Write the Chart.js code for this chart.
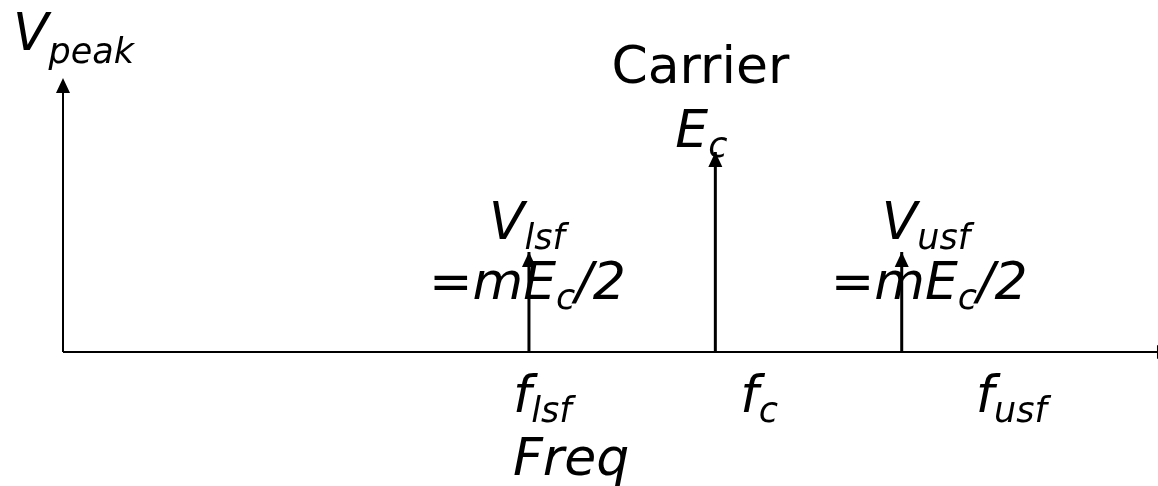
<!DOCTYPE html>
<html>
<head>
<meta charset="utf-8">
<script src="https://cdn.jsdelivr.net/npm/chart.js@4"></script>
<style>
  html, body { margin: 0; padding: 0; background: #fff; }
  #wrap { width: 1158px; height: 486px; }
</style>
</head>
<body>
<div id="wrap"><canvas id="spectrum"></canvas></div>
<script>
// spectral lines: lower side freq, carrier, upper side freq
const freqs = [5, 7, 9];
const amps = [0.5, 1, 0.5];
const tickLabels = [['f', 'lsf'], ['f', 'c'], ['f', 'usf']];
const lineTitles = [['V', 'lsf'], ['E', 'c'], ['V', 'usf']];
const yAxisTitle = ['V', 'peak'];
const xAxisTitle = 'Freq';
const carrierTitle = 'Carrier';

const FONT = '"DejaVu Sans"';
const BIG = 52, SUB = 35;

// draws "main" + subscript runs, returns end x
function rich(ctx, x, y, parts, italic, subDrop) {
  const drop = subDrop || 10;
  ctx.textBaseline = 'alphabetic';
  ctx.textAlign = 'left';
  parts.forEach(function(p) {
    const size = p.sub ? SUB : BIG;
    ctx.font = (italic ? 'oblique ' : '') + size + 'px ' + FONT;
    ctx.fillText(p.t, x, y + (p.sub ? drop : 0));
    x += ctx.measureText(p.t).width;
  });
  return x;
}

function arrowHead(ctx, x, y, dir) {
  const len = 15, half = 7;
  ctx.beginPath();
  if (dir === 'up') {
    ctx.moveTo(x, y);
    ctx.lineTo(x - half, y + len);
    ctx.lineTo(x + half, y + len);
  } else {
    ctx.moveTo(x, y);
    ctx.lineTo(x - len, y - half);
    ctx.lineTo(x - len, y + half);
  }
  ctx.closePath();
  ctx.fill();
}

const decor = {
  id: 'decor',
  beforeDatasetsDraw(chart) {
    const ctx = chart.ctx;
    const xs = chart.scales.x, ys = chart.scales.y;
    const x0 = xs.getPixelForValue(0), y0 = ys.getPixelForValue(0);
    const yTop = ys.getPixelForValue(ys.max);
    const xEnd = xs.getPixelForValue(11.9);
    ctx.save();
    ctx.strokeStyle = '#000';
    ctx.fillStyle = '#000';
    ctx.lineWidth = 2;
    ctx.beginPath();
    ctx.moveTo(x0, y0); ctx.lineTo(x0, yTop + 12);
    ctx.moveTo(x0, y0); ctx.lineTo(xEnd - 12, y0);
    ctx.stroke();
    arrowHead(ctx, x0, yTop, 'up');
    arrowHead(ctx, xEnd, y0, 'right');
    ctx.restore();
  },
  afterDatasetsDraw(chart) {
    const ctx = chart.ctx;
    const xs = chart.scales.x, ys = chart.scales.y;
    ctx.save();
    ctx.fillStyle = '#000';
    chart.data.datasets.forEach(function(ds, i) {
      const pt = chart.getDatasetMeta(i).data[1];
      arrowHead(ctx, pt.x, pt.y, 'up');
    });

    // y axis title
    rich(ctx, 13, 50, [{t: yAxisTitle[0]}, {t: yAxisTitle[1], sub: true}], true, 13);

    const px = freqs.map(function(f) { return xs.getPixelForValue(f); });
    const py = amps.map(function(a) { return ys.getPixelForValue(a); });

    // carrier
    ctx.font = BIG + 'px ' + FONT;
    ctx.textAlign = 'center';
    ctx.fillText(carrierTitle, px[1] - 15, 83);
    rich(ctx, px[1] - 40, py[1] - 5, [{t: lineTitles[1][0]}, {t: lineTitles[1][1], sub: true}], true);

    // side frequencies
    [0, 2].forEach(function(i) {
      const off = i === 0 ? -40 : -20;
      rich(ctx, px[i] + off, py[i] - 13, [{t: lineTitles[i][0]}, {t: lineTitles[i][1], sub: true}], true);
      const eqOff = i === 0 ? -100 : -71;
      rich(ctx, px[i] + eqOff, py[i] + 47, [{t: '=mE'}, {t: 'c', sub: true}, {t: '/2'}], true);
    });

    // labels under the axis
    const tickOff = [-16, 25, 74];
    tickLabels.forEach(function(lab, i) {
      rich(ctx, px[i] + tickOff[i], 412, [{t: lab[0]}, {t: lab[1], sub: true}], true);
    });
    rich(ctx, px[0] - 16, 475, [{t: xAxisTitle}], true);
    ctx.restore();
  }
};

const datasets = freqs.map(function(f, i) {
  return {
    data: [{x: f, y: 0}, {x: f, y: amps[i]}],
    showLine: true,
    borderColor: '#000',
    borderWidth: 3,
    pointRadius: 0
  };
});

new Chart(document.getElementById('spectrum'), {
  type: 'scatter',
  data: { datasets: datasets },
  options: {
    responsive: true,
    maintainAspectRatio: false,
    animation: false,
    events: [],
    layout: { padding: { left: 63, right: 0, top: 78, bottom: 134 } },
    plugins: { legend: { display: false }, tooltip: { enabled: false } },
    scales: {
      x: { type: 'linear', display: false, min: 0, max: 11.75 },
      y: { type: 'linear', display: false, min: 0, max: 1.37 }
    }
  },
  plugins: [decor]
});
</script>
</body>
</html>
